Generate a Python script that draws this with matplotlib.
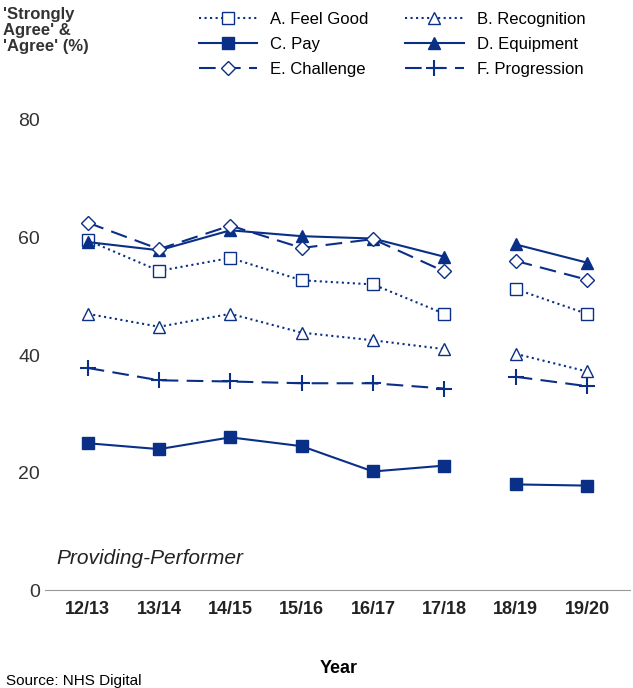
import matplotlib
matplotlib.use("Agg")
import matplotlib.pyplot as plt
import numpy as np

plt.rcParams['font.family'] = ['Liberation Sans', 'DejaVu Sans']

years = ["12/13","13/14","14/15","15/16","16/17","17/18","18/19","19/20"]
feel_good   = [59.5, 54.3, 56.5, 52.7, 52.0, 47.0, 51.2, 47.0]
recognition = [47.0, 44.8, 47.0, 43.8, 42.5, 41.0, 40.2, 37.2]
pay         = [25.0, 24.0, 26.0, 24.5, 20.2, 21.2, 18.0, 17.8]
equipment   = [59.2, 57.8, 61.2, 60.2, 59.8, 56.7, 58.8, 55.7]
challenge   = [62.5, 58.0, 62.0, 58.2, 59.7, 54.2, 56.0, 52.8]
progression = [37.8, 35.7, 35.5, 35.2, 35.2, 34.3, 36.3, 34.7]

C = "#0a2f86"
series = [
    ("A. Feel Good", feel_good, dict(ls=":", marker="s", mfc="white", ms=9)),
    ("B. Recognition", recognition, dict(ls=":", marker="^", mfc="white", ms=9)),
    ("C. Pay", pay, dict(ls="-", marker="s", mfc=C, ms=9)),
    ("D. Equipment", equipment, dict(ls="-", marker="^", mfc=C, ms=9)),
    ("E. Challenge", challenge, dict(ls=(0, (8, 4)), marker="D", mfc="white", ms=7)),
    ("F. Progression", progression, dict(ls=(0, (8, 4)), marker="+", ms=11, mew=1.5)),
]

fig = plt.figure(figsize=(6.33, 6.88), dpi=100)
ax = fig.add_axes([0.071, 0.142, 0.924, 0.684])
x = np.arange(len(years))
handles = []
for name, vals, st in series:
    kw = dict(color=C, lw=1.5, mec=C)
    kw.update(st)
    h, = ax.plot(x[:6], vals[:6], label=name, clip_on=False, **kw)
    ax.plot(x[6:], vals[6:], clip_on=False, **kw)
    handles.append(h)

ax.set_xlim(-0.6, 7.6)
ax.set_ylim(0, 80)
ax.set_yticks([0, 20, 40, 60, 80])
ax.set_xticks(x)
ax.set_xticklabels(years, fontsize=13, fontweight="bold", color="#222222")
ax.tick_params(axis="y", labelsize=14, length=0, colors="#333333")
ax.tick_params(axis="x", length=0, pad=8)
for s in ["top", "right", "left"]:
    ax.spines[s].set_visible(False)
ax.spines["bottom"].set_color("#999999")
ax.text(0.02, 0.055, "Providing-Performer", transform=ax.transAxes,
        fontsize=15, style="italic", color="#222222")

order = [0, 2, 4, 1, 3, 5]
fig.legend(handles=[handles[i] for i in order], ncol=2, loc="upper left",
           bbox_to_anchor=(0.29, 1.005),
           frameon=False, fontsize=12, handlelength=3.5, columnspacing=2.2,
           labelspacing=0.6)
fig.text(0.005, 0.99, "'Strongly\nAgree' &\n'Agree' (%)", fontsize=12,
         fontweight="bold", va="top", color="#333333", linespacing=1.1)
fig.text(0.535, 0.022, "Year", fontsize=13, fontweight="bold", ha="center")
fig.text(0.01, 0.005, "Source: NHS Digital", fontsize=11)
fig.savefig("out.png", dpi=100)
